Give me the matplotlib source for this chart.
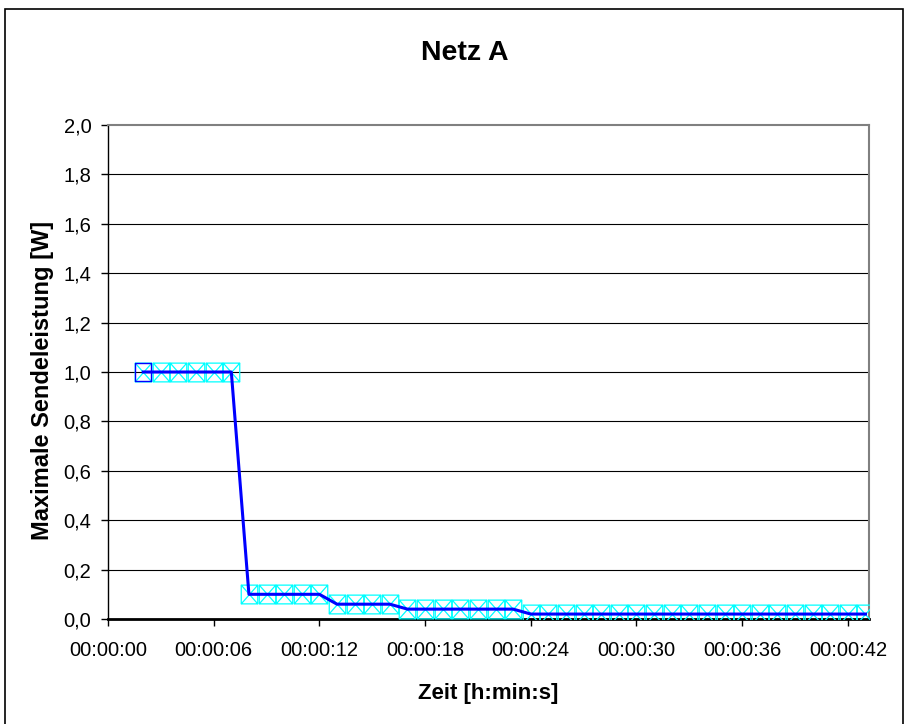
#!/usr/bin/env python3

import matplotlib
matplotlib.use('Agg')
import matplotlib.pyplot as plt
from matplotlib.patches import Rectangle
from matplotlib.path import Path

plt.rcParams['font.family'] = ['Liberation Sans', 'DejaVu Sans']

# seconds since start and max transmit power in W
zeit = list(range(2, 44))
leistung = ([1.0] * 6 + [0.1] * 5 + [0.06] * 4 + [0.04] * 7 + [0.02] * 20)

xticks = list(range(0, 43, 6))
xticklabels = ['00:00:%02d' % s for s in xticks]
yticks = [0.0, 0.2, 0.4, 0.6, 0.8, 1.0, 1.2, 1.4, 1.6, 1.8, 2.0]

# box with a cross inside, a bit taller than wide
w, h = 0.44, 0.5
boxX = Path([(-w, -h), (w, -h), (w, h), (-w, h), (-w, -h),
             (-w, -h), (w, h), (-w, h), (w, -h)],
            [Path.MOVETO, Path.LINETO, Path.LINETO, Path.LINETO, Path.CLOSEPOLY,
             Path.MOVETO, Path.LINETO, Path.MOVETO, Path.LINETO])
boxOnly = Path([(-w, -h), (w, -h), (w, h), (-w, h), (-w, -h)],
               [Path.MOVETO, Path.LINETO, Path.LINETO, Path.LINETO, Path.CLOSEPOLY])


def plot(outName):
    W, H = 908, 724
    fig = plt.figure(figsize=(W / 100, H / 100), dpi=100)
    ax = fig.add_axes([108 / W, 1 - 619 / H, (869 - 108) / W, (619 - 125) / H])

    # outer chart frame
    fig.patches.append(Rectangle((5 / W, -0.01), (903 - 5) / W, 1 - 9 / H + 0.01,
                                 transform=fig.transFigure, fill=False,
                                 edgecolor='black', linewidth=1.2))

    ax.set_xlim(0, 43.2)
    ax.set_ylim(0, 2.0)

    for y in yticks[1:-1]:
        ax.axhline(y, color='black', linewidth=0.8, zorder=1)

    ms = 13.5
    ax.plot(zeit, leistung, linestyle='none', marker=boxX, markersize=ms,
            markerfacecolor='none', markeredgecolor='#00FFFF', markeredgewidth=0.9, zorder=3)
    ax.plot(zeit[:1], leistung[:1], linestyle='none', marker=boxOnly, markersize=ms,
            markerfacecolor='none', markeredgecolor='#0000FF', markeredgewidth=1.0, zorder=4)
    ax.plot(zeit, leistung, color='#0000FF', linewidth=2.2, zorder=5, clip_on=False)

    ax.set_xticks(xticks)
    ax.set_xticklabels(xticklabels)
    ax.set_yticks(yticks)
    ax.set_yticklabels([('%.1f' % v).replace('.', ',') for v in yticks])
    ax.tick_params(axis='both', direction='out', length=5, width=1, colors='black', labelsize=14.5)
    ax.tick_params(axis='x', pad=11)
    ax.tick_params(axis='y', pad=7)

    ax.spines['left'].set_color('black')
    ax.spines['left'].set_linewidth(1)
    ax.spines['bottom'].set_color('black')
    ax.spines['bottom'].set_linewidth(2)
    ax.spines['top'].set_color('#808080')
    ax.spines['top'].set_linewidth(1.5)
    ax.spines['right'].set_color('#808080')
    ax.spines['right'].set_linewidth(1.5)

    fig.text(465 / W, 1 - 53 / H, 'Netz A', ha='center', va='center',
             fontsize=20.5, fontweight='bold')
    fig.text(488 / W, 1 - 693 / H, 'Zeit [h:min:s]', ha='center', va='center',
             fontsize=16, fontweight='bold')
    fig.text(43 / W, 1 - 380 / H, 'Maximale Sendeleistung [W]', ha='center', va='center',
             rotation=90, fontsize=17, fontweight='bold')

    plt.savefig(outName, dpi=100)


if __name__ == '__main__':
    plot('out.png')
